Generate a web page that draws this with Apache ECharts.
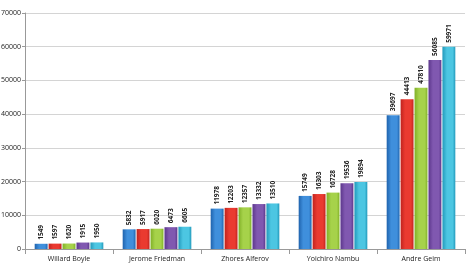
<!DOCTYPE html>
<html>
<head>
<meta charset="utf-8">
<script src="https://cdn.jsdelivr.net/npm/echarts@6/dist/echarts.min.js"></script>
<style>
  html, body { margin: 0; padding: 0; background: #fff; }
  #main { width: 468px; height: 266px; }
</style>
</head>
<body>
<div id="main"></div>
<script>
const categories = ['Willard Boyle', 'Jerome Friedman', 'Zhores Alferov', 'Yoichiro Nambu', 'Andre Geim']
const series1 = [1549, 5832, 11978, 15749, 39697]
const series2 = [1597, 5917, 12203, 16303, 44413]
const series3 = [1620, 6020, 12357, 16728, 47810]
const series4 = [1915, 6473, 13332, 19536, 56085]
const series5 = [1950, 6605, 13510, 19894, 59971]

// dark edge, light middle, per bar colour
const palette = [
  ['#1f63ad', '#3f8fdc'],
  ['#c0231e', '#ea3a30'],
  ['#80b027', '#a6d24a'],
  ['#5c378c', '#8058b0'],
  ['#2299bb', '#4cc6e2']
]

function barColor (c) {
  return new echarts.graphic.LinearGradient(0, 0, 1, 0, [
    { offset: 0, color: c[0] },
    { offset: 0.35, color: c[1] },
    { offset: 0.8, color: c[1] },
    { offset: 1, color: c[0] }
  ])
}

let myChart = echarts.init(document.getElementById('main'))
let allData = [series1, series2, series3, series4, series5]

let option = {
  animation: false,
  textStyle: { fontFamily: 'Open Sans' },
  grid: { left: 25, right: 3, top: 13, bottom: 17, outerBoundsMode: 'none' },
  xAxis: {
    type: 'category',
    data: categories,
    axisLine: { lineStyle: { color: '#999' } },
    axisTick: { show: true, lineStyle: { color: '#999' } },
    axisLabel: { color: '#222', fontSize: 7, margin: 6 }
  },
  yAxis: {
    type: 'value',
    min: 0,
    max: 70000,
    interval: 10000,
    axisLine: { show: true, lineStyle: { color: '#999' } },
    axisTick: { show: true, length: 3, lineStyle: { color: '#999' } },
    axisLabel: { color: '#222', fontSize: 7, margin: 4, formatter: v => String(v) },
    splitLine: { lineStyle: { color: '#d4d4d4' } }
  },
  series: allData.map((d, i) => ({
    type: 'bar',
    data: d,
    barGap: '8%',
    barCategoryGap: '22%',
    itemStyle: { color: barColor(palette[i]) },
    label: {
      show: true,
      position: 'top',
      rotate: 90,
      align: 'left',
      verticalAlign: 'middle',
      distance: 4,
      fontSize: 6.5,
      fontWeight: 'bold',
      color: '#222'
    }
  }))
}

option && myChart.setOption(option)
</script>
</body>
</html>
